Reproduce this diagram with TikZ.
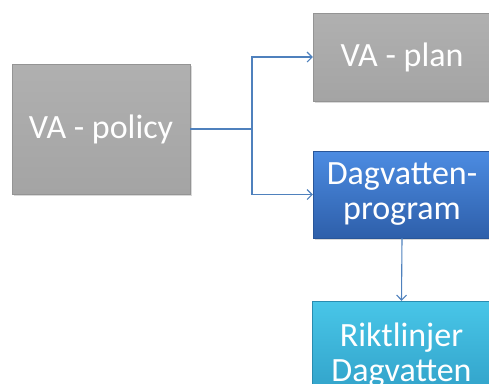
\documentclass[tikz,border=0pt]{standalone}
\usepackage{fontspec}
\setmainfont{Carlito}
\usetikzlibrary{arrows.meta,shadows}
\definecolor{conn}{HTML}{4F81BD}
\definecolor{gtop}{HTML}{B0B0B0}
\definecolor{gbot}{HTML}{A4A4A4}
\definecolor{btop}{HTML}{4C8CE2}
\definecolor{bbot}{HTML}{2E5FAA}
\definecolor{ctop}{HTML}{48C6E8}
\definecolor{cbot}{HTML}{2E9CC4}
\begin{document}
\begin{tikzpicture}[x=1pt,y=-1pt,
  box/.style={rectangle, inner sep=0pt, text=white, align=center,
    font=\fontsize{34}{35}\selectfont,
    drop shadow={shadow xshift=1.5pt, shadow yshift=-2pt, opacity=0.3}},
  graybox/.style={box, top color=gtop, bottom color=gbot, draw=gbot!90!black, line width=0.4pt},
  bluebox/.style={box, top color=btop, bottom color=bbot, draw=bbot!90!black, line width=0.4pt},
  cyanbox/.style={box, top color=ctop, bottom color=cbot, draw=cbot!90!black, line width=0.4pt},
  conline/.style={draw=conn, line width=1.1pt},
  arr/.style={conline, -{Straight Barb[length=5pt,width=10pt,line width=1.1pt]}}]
\useasboundingbox (0,0) rectangle (489,383);
\clip (0,0) rectangle (489,383);
\node[graybox, minimum width=178pt, minimum height=130pt] (policy) at (101,129) {VA - policy};
\node[graybox, minimum width=178pt, minimum height=88pt] (plan) at (402,57) {VA - plan};
\node[bluebox, minimum width=178pt, minimum height=87pt] (dag) at (402,194.5) {Dagvatten-\\program};
\node[cyanbox, minimum width=179pt, minimum height=108pt] (rikt) at (401.5,355) {Riktlinjer\\Dagvatten};
\coordinate (j) at (252,129);
\draw[conline] (policy.east) -- (j);
\draw[arr] (j) |- (plan.west);
\draw[arr] (j) |- (dag.west);
\draw[arr] (dag.south) -- (rikt.north);
\end{tikzpicture}
\end{document}
